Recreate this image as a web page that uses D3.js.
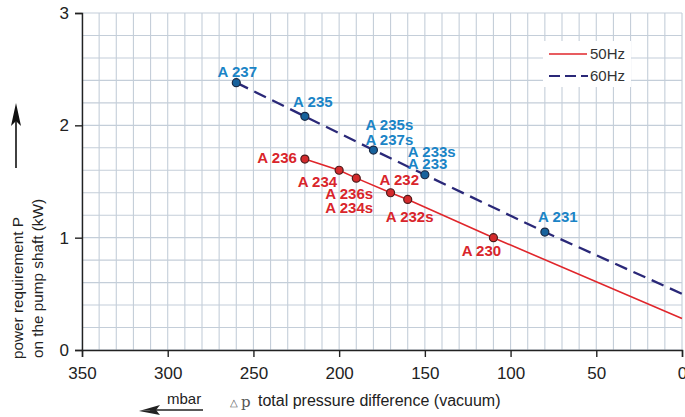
<!DOCTYPE html>
<html><head><meta charset="utf-8">
<script src="https://cdn.jsdelivr.net/npm/d3@7"></script>
<style>body{margin:0;background:#fff}svg{display:block;font-family:"Liberation Sans",Arial,sans-serif}</style>
</head><body><svg id="c" width="685" height="417"></svg>
<script>
// ---- data ----
const pressure50 = [220, 200, 190, 170, 160, 110, 0];
const power50    = [1.70, 1.60, 1.53, 1.40, 1.34, 1.00, 0.28];
const pointed50  = [true, true, true, true, true, true, false];
const names50    = [["A 236"], ["A 234"], ["A 236s", "A 234s"], ["A 232"], ["A 232s"], ["A 230"], []];

const pressure60 = [260, 220, 180, 150, 80, 0];
const power60    = [2.38, 2.08, 1.78, 1.56, 1.05, 0.50];
const pointed60  = [true, true, true, true, true, false];
const names60    = [["A 237"], ["A 235"], ["A 235s", "A 237s"], ["A 233s", "A 233"], ["A 231"], []];

const xTicks = [350, 300, 250, 200, 150, 100, 50, 0];
const yTicks = [0, 1, 2, 3];
const seriesNames = ["50Hz", "60Hz"];

// ---- layout (label placement offsets, px) ----
const lab50 = [
  {a:"end", dx:-8, dy:[4]},
  {a:"end", dx:-2, dy:[17]},
  {a:"start", dx:-31, dy:[21, 35]},
  {a:"start", dx:-11, dy:[-8]},
  {a:"start", dx:-22, dy:[23]},
  {a:"middle", dx:-12, dy:[18]},
  null];
const lab60 = [
  {a:"middle", dx:1, dy:[-6]},
  {a:"middle", dx:8, dy:[-9]},
  {a:"start", dx:-8, dy:[-20, -5]},
  {a:"start", dx:-17, dy:[-18, -6]},
  {a:"middle", dx:13, dy:[-10]},
  null];

const svg = d3.select("#c");
const L = 82, R = 682, T = 13, B = 350;
const x = d3.scaleLinear().domain([350, 0]).range([L, R]);
const y = d3.scaleLinear().domain([0, 3]).range([B, T]);

// grid
const g = svg.append("g");
g.selectAll("line.v").data(d3.range(0, 351, 10)).join("line")
  .attr("x1", d => x(d)).attr("x2", d => x(d)).attr("y1", T).attr("y2", B)
  .attr("stroke", "#c4ced9").attr("stroke-width", 1.1);
g.selectAll("line.h").data(d3.range(0, 16).map(i => i * 0.2)).join("line")
  .attr("x1", L).attr("x2", R).attr("y1", d => y(d)).attr("y2", d => y(d))
  .attr("stroke", "#c4ced9").attr("stroke-width", 1.1);

// legend box
const lg = svg.append("g");
lg.append("rect").attr("x", 543).attr("y", 41).attr("width", 88).attr("height", 46).attr("fill", "#fff");
lg.append("line").attr("x1", 549).attr("x2", 587).attr("y1", 54).attr("y2", 54).attr("stroke", "#e0262b").attr("stroke-width", 1.6);
lg.append("line").attr("x1", 549).attr("x2", 588).attr("y1", 76).attr("y2", 76).attr("stroke", "#2a2878").attr("stroke-width", 2.2).attr("stroke-dasharray", "11,5");
lg.append("text").attr("x", 590).attr("y", 59).attr("font-size", 15).attr("fill", "#333").text(seriesNames[0]);
lg.append("text").attr("x", 590).attr("y", 81).attr("font-size", 15).attr("fill", "#333").text(seriesNames[1]);

// axes
const xa = svg.append("g").attr("transform", `translate(0,${B})`)
  .call(d3.axisBottom(x).tickValues(xTicks).tickSize(7).tickPadding(10).tickFormat(d3.format("d")));
const ya = svg.append("g").attr("transform", `translate(${L},0)`)
  .call(d3.axisLeft(y).tickValues(yTicks).tickSize(7).tickPadding(6).tickFormat(d3.format("d")));
[xa, ya].forEach(a => {
  a.select(".domain").attr("stroke", "#222").attr("stroke-width", 1.4);
  a.selectAll(".tick line").attr("stroke", "#222").attr("stroke-width", 1.4);
  a.selectAll(".tick text").attr("font-size", 17).attr("fill", "#222").attr("font-family", "Liberation Sans, Arial, sans-serif");
});

// lines
const line = d3.line().x(d => x(d[0])).y(d => y(d[1]));
svg.append("path").datum(pressure60.map((p, i) => [p, power60[i]]))
  .attr("d", line).attr("fill", "none").attr("stroke", "#2a2878").attr("stroke-width", 2.3).attr("stroke-dasharray", "13,7");
svg.append("path").datum(pressure50.map((p, i) => [p, power50[i]]))
  .attr("d", line).attr("fill", "none").attr("stroke", "#e0262b").attr("stroke-width", 1.6);

function drawPoints(P, V, on, names, lab, fill, stroke, tcol) {
  const idx = d3.range(P.length).filter(i => on[i]);
  svg.append("g").selectAll("circle").data(idx).join("circle")
    .attr("cx", i => x(P[i])).attr("cy", i => y(V[i])).attr("r", 4)
    .attr("fill", fill).attr("stroke", stroke).attr("stroke-width", 1.2);
  const tg = svg.append("g");
  idx.forEach(i => {
    const l = lab[i];
    names[i].forEach((n, k) => {
      tg.append("text").attr("x", x(P[i]) + l.dx).attr("y", y(V[i]) + l.dy[k])
        .attr("text-anchor", l.a).attr("font-size", 15).attr("font-weight", "bold")
        .attr("fill", tcol).text(n);
    });
  });
}
drawPoints(pressure50, power50, pointed50, names50, lab50, "#d42a2c", "#4a1c1c", "#d9252b");
drawPoints(pressure60, power60, pointed60, names60, lab60, "#17629c", "#1b2a44", "#1a84c6");

// x axis title
const xt = svg.append("g");
xt.append("text").attr("x", 230).attr("y", 406).attr("font-size", 10).attr("fill", "#555").text("△");
xt.append("text").attr("x", 241).attr("y", 407).attr("font-size", 15).attr("fill", "#555").attr("font-family", "DejaVu Serif, serif").text("p");
xt.append("text").attr("x", 258).attr("y", 406).attr("font-size", 16).attr("fill", "#222").text("total pressure difference (vacuum)");
xt.append("text").attr("x", 167).attr("y", 404).attr("font-size", 15).attr("fill", "#222").text("mbar");
xt.append("line").attr("x1", 150).attr("x2", 203).attr("y1", 410).attr("y2", 410).attr("stroke", "#222").attr("stroke-width", 1.3);
xt.append("path").attr("d", "M139,411 L160,405 L156,410 Z").attr("fill", "#222");
xt.append("path").attr("d", "M139,411 L160,415 L156,410 Z").attr("fill", "#222");

// y axis title
const yt = svg.append("g");
yt.append("text").attr("transform", "translate(23,359) rotate(-90)").attr("font-size", 15.3).attr("fill", "#222").text("power requirement P");
yt.append("text").attr("transform", "translate(43,358) rotate(-90)").attr("font-size", 15.3).attr("fill", "#222").text("on the pump shaft (kW)");
yt.append("line").attr("x1", 16).attr("x2", 16).attr("y1", 168).attr("y2", 118).attr("stroke", "#111").attr("stroke-width", 1.6);
yt.append("path").attr("d", "M16,103 L11,126 L16,121 L21,126 Z").attr("fill", "#111");
</script></body></html>
